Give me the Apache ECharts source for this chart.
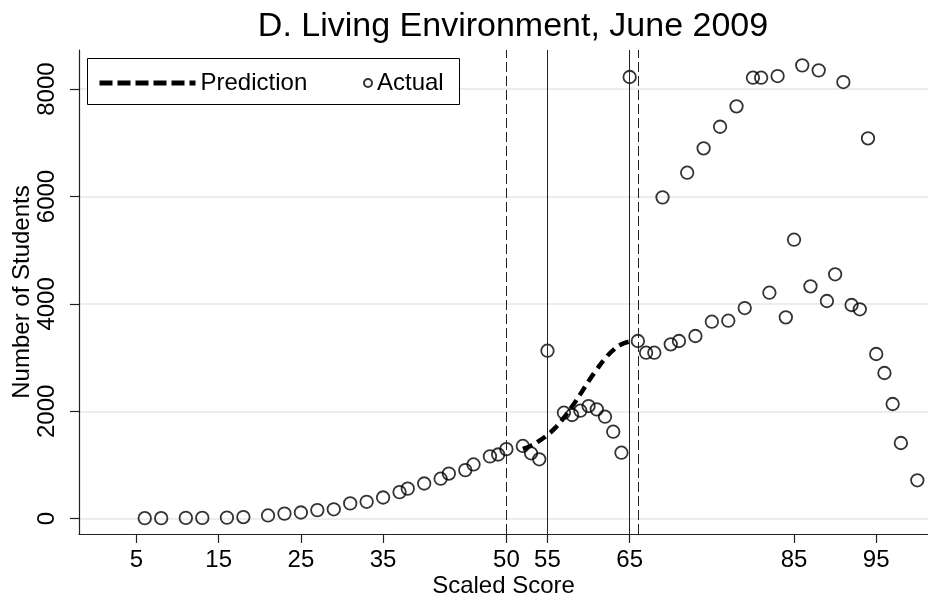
<!DOCTYPE html>
<html>
<head>
<meta charset="utf-8">
<script src="https://cdn.jsdelivr.net/npm/echarts@6/dist/echarts.min.js"></script>
<style>
html, body { margin: 0; padding: 0; background: #fff; }
#chart { width: 928px; height: 600px; }
</style>
</head>
<body>
<div id="chart"></div>
<script>
// actual counts by scaled score
var actualX = [6, 8, 11, 13, 16, 18, 21, 23, 25, 27, 29, 31, 33, 35, 37, 38, 40, 42, 43, 45, 46, 48, 49, 50,
    52, 53, 54, 55, 57, 58, 59, 60, 61, 62, 63, 64, 65, 66, 67, 68, 69, 70, 71, 72, 73, 74, 75, 76, 77, 78,
    79, 80, 81, 82, 83, 84, 85, 86, 87, 88, 89, 90, 91, 92, 93, 94, 95, 96, 97, 98, 100];
var actualY = [10, 10, 15, 15, 20, 30, 60, 95, 115, 160, 175, 285, 315, 395, 495, 560, 655, 745, 840, 905, 1010, 1160, 1195, 1295,
    1355, 1218, 1106, 3128, 1974, 1931, 2011, 2098, 2036, 1899, 1620, 1229, 8225, 3309, 3091, 3091, 5984, 3247, 3309, 6443, 3402, 6897, 3668, 7299, 3687, 7679,
    3923, 8212, 8212, 4208, 8243, 3750, 5195, 8442, 4327, 8349, 4054, 4551, 8131, 3979, 3899, 7083, 3067, 2713, 2136, 1410, 715];

// predicted counts
var predX = [52, 53, 54, 55, 56, 57, 58, 59, 60, 61, 62, 63, 64, 65];
var predY = [1300, 1360, 1450, 1560, 1700, 1880, 2090, 2320, 2560, 2780, 2980, 3140, 3250, 3300];

var xTicks = [5, 15, 25, 35, 50, 55, 65, 85, 95];
var yTicks = [0, 2000, 4000, 6000, 8000];
var dashedCuts = [50, 66];
var solidCuts = [55, 65];

var font = 'Liberation Sans, Arial, Helvetica, sans-serif';

var actualData = [];
for (var i = 0; i < actualX.length; i++) {
    actualData.push([actualX[i], actualY[i]]);
}
var predData = [];
for (var j = 0; j < predX.length; j++) {
    predData.push([predX[j], predY[j]]);
}

var cutLines = [];
dashedCuts.forEach(function (v) {
    cutLines.push({ xAxis: v, lineStyle: { type: [10, 4], color: '#222', width: 1 } });
});
solidCuts.forEach(function (v) {
    cutLines.push({ xAxis: v, lineStyle: { type: 'solid', color: '#222', width: 1 } });
});

var chart = echarts.init(document.getElementById('chart'));
var option = {
    animation: false,
    backgroundColor: '#fff',
    textStyle: { fontFamily: font },
    title: {
        text: 'D. Living Environment, June 2009',
        left: 508,
        top: 5,
        textAlign: 'center',
        textStyle: { fontSize: 34, fontWeight: 'normal', color: '#000', fontFamily: font }
    },
    graphic: [{
        type: 'rect',
        shape: { x: 87.5, y: 58.5, width: 372, height: 46 },
        style: { fill: '#fff', stroke: '#000', lineWidth: 1 },
        z: 90
    }],
    legend: [{
        data: [{ name: 'Prediction' }],
        left: 92,
        top: 66,
        itemWidth: 96,
        itemHeight: 24,
        z: 100,
        textStyle: { fontSize: 24, color: '#000', fontFamily: font },
        itemStyle: { color: 'rgba(0,0,0,0)', borderWidth: 0, opacity: 0 },
        lineStyle: { type: [13, 5], width: 5, color: '#000' }
    }, {
        data: [{ name: 'Actual' }],
        left: 358,
        top: 66,
        itemWidth: 8,
        itemHeight: 24,
        z: 100,
        textStyle: { fontSize: 24, color: '#000', fontFamily: font }
    }],
    grid: { left: 79, right: 0, top: 50, bottom: 66, outerBoundsMode: 'none', containLabel: false },
    xAxis: {
        type: 'value',
        min: -2,
        max: 101.3,
        name: 'Scaled Score',
        nameLocation: 'middle',
        nameGap: 40,
        nameMoveOverlap: false,
        nameTextStyle: { fontSize: 24, color: '#000', fontFamily: font },
        axisLine: { show: true, onZero: false, lineStyle: { color: '#222', width: 1.2 } },
        axisTick: { show: true, customValues: xTicks, length: 9, lineStyle: { color: '#222', width: 1.2 } },
        axisLabel: { customValues: xTicks, margin: 14, fontSize: 24, color: '#000', fontFamily: font },
        splitLine: { show: false }
    },
    yAxis: {
        type: 'value',
        min: -285,
        max: 8728,
        name: 'Number of Students',
        nameLocation: 'middle',
        nameRotate: 90,
        nameGap: 45,
        nameMoveOverlap: false,
        nameTextStyle: { fontSize: 24, color: '#000', fontFamily: font },
        axisLine: { show: true, onZero: false, lineStyle: { color: '#222', width: 1.2 } },
        axisTick: { show: true, customValues: yTicks, length: 9, lineStyle: { color: '#222', width: 1.2 } },
        axisLabel: {
            customValues: yTicks, rotate: 90, margin: 20, fontSize: 24, color: '#000', fontFamily: font,
            formatter: function (v) { return String(v); }
        },
        splitLine: { show: true, lineStyle: { color: '#e6eff1', width: 1.8 } }
    },
    series: [{
        name: 'Actual',
        type: 'scatter',
        data: actualData,
        symbol: 'circle',
        symbolSize: 12.5,
        itemStyle: { color: 'rgba(255,255,255,0)', borderColor: '#000', borderWidth: 1.8 },
        markLine: {
            silent: true,
            symbol: ['none', 'none'],
            label: { show: false },
            data: cutLines
        }
    }, {
        name: 'Prediction',
        type: 'line',
        data: predData,
        symbol: 'none',
        smooth: true,
        z: 5,
        lineStyle: { color: '#000', width: 4.5, type: [10, 6] },
        itemStyle: { color: '#000' }
    }]
};
chart.setOption(option);
</script>
</body>
</html>
